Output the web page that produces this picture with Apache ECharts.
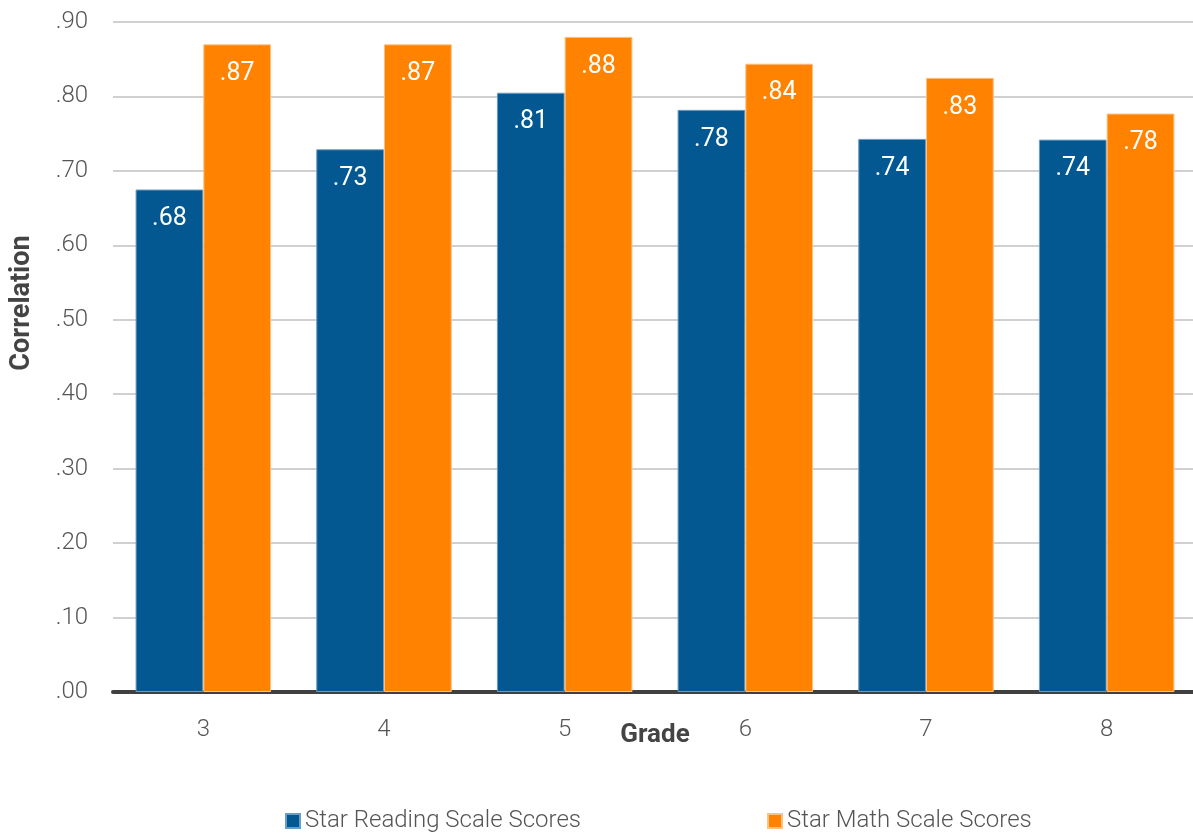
<!DOCTYPE html>
<html>
<head>
<meta charset="utf-8">
<script src="https://cdn.jsdelivr.net/npm/echarts@6/dist/echarts.min.js"></script>
<style>
  html, body { margin: 0; padding: 0; background: #fff; }
  #chart { width: 1193px; height: 835px; }
</style>
</head>
<body>
<div id="chart"></div>
<script>
const grades = ['3', '4', '5', '6', '7', '8']
const readingValues = [0.675, 0.729, 0.805, 0.782, 0.743, 0.742]
const mathValues = [0.870, 0.870, 0.880, 0.844, 0.825, 0.777]
const readingLabels = ['.68', '.73', '.81', '.78', '.74', '.74']
const mathLabels = ['.87', '.87', '.88', '.84', '.83', '.78']
const yTicks = ['.00', '.10', '.20', '.30', '.40', '.50', '.60', '.70', '.80', '.90']

const font = 'Roboto, "Noto Sans", sans-serif'

const chart = echarts.init(document.getElementById('chart'))

const barLabel = (labels) => ({
  show: true,
  position: 'insideTop',
  distance: 17,
  color: '#fff',
  fontSize: 25,
  fontFamily: font,
  formatter: (p) => labels[p.dataIndex]
})

chart.setOption({
  animation: false,
  textStyle: { fontFamily: font },
  grid: { left: 113, width: 1084, top: 22, bottom: 143, outerBoundsMode: 'none' },
  graphic: [{
    type: 'text',
    x: 22,
    y: 303,
    rotation: Math.PI / 2,
    style: {
      text: 'Correlation',
      fill: '#444',
      font: 'bold 27px ' + font,
      align: 'center',
      verticalAlign: 'middle'
    }
  }],
  legend: {
    left: 285,
    top: 809,
    padding: 0,
    itemWidth: 14,
    itemHeight: 14,
    itemGap: 186,
    icon: 'rect',
    textStyle: { color: '#555', fontSize: 24, fontWeight: 300, fontFamily: font }
  },
  xAxis: {
    type: 'category',
    data: grades,
    name: 'Grade',
    nameLocation: 'middle',
    nameGap: 30,
    nameMoveOverlap: false,
    nameTextStyle: { color: '#444', fontSize: 26, fontWeight: 'bold' },
    axisTick: { show: false },
    axisLine: { lineStyle: { color: '#404040', width: 4 } },
    axisLabel: { color: '#555', fontSize: 24, fontWeight: 300, margin: 26 }
  },
  yAxis: {
    type: 'value',
    min: 0,
    max: 0.9,
    interval: 0.1,
    axisLine: { show: false },
    axisTick: { show: false },
    splitLine: { lineStyle: { color: '#d0d0d0', width: 2 } },
    axisLabel: {
      color: '#555',
      fontSize: 24,
      fontWeight: 300,
      margin: 25,
      formatter: (v) => yTicks[Math.round(v * 10)]
    }
  },
  series: [
    {
      name: 'Star Reading Scale Scores',
      type: 'bar',
      data: readingValues,
      barGap: '0%',
      barCategoryGap: '25%',
      itemStyle: { color: '#035891', borderColor: '#6b9cc6', borderWidth: 1 },
      label: barLabel(readingLabels)
    },
    {
      name: 'Star Math Scale Scores',
      type: 'bar',
      data: mathValues,
      barGap: '0%',
      barCategoryGap: '25%',
      itemStyle: { color: '#ff8300', borderColor: '#ffc080', borderWidth: 1 },
      label: barLabel(mathLabels)
    }
  ]
})
</script>
</body>
</html>
